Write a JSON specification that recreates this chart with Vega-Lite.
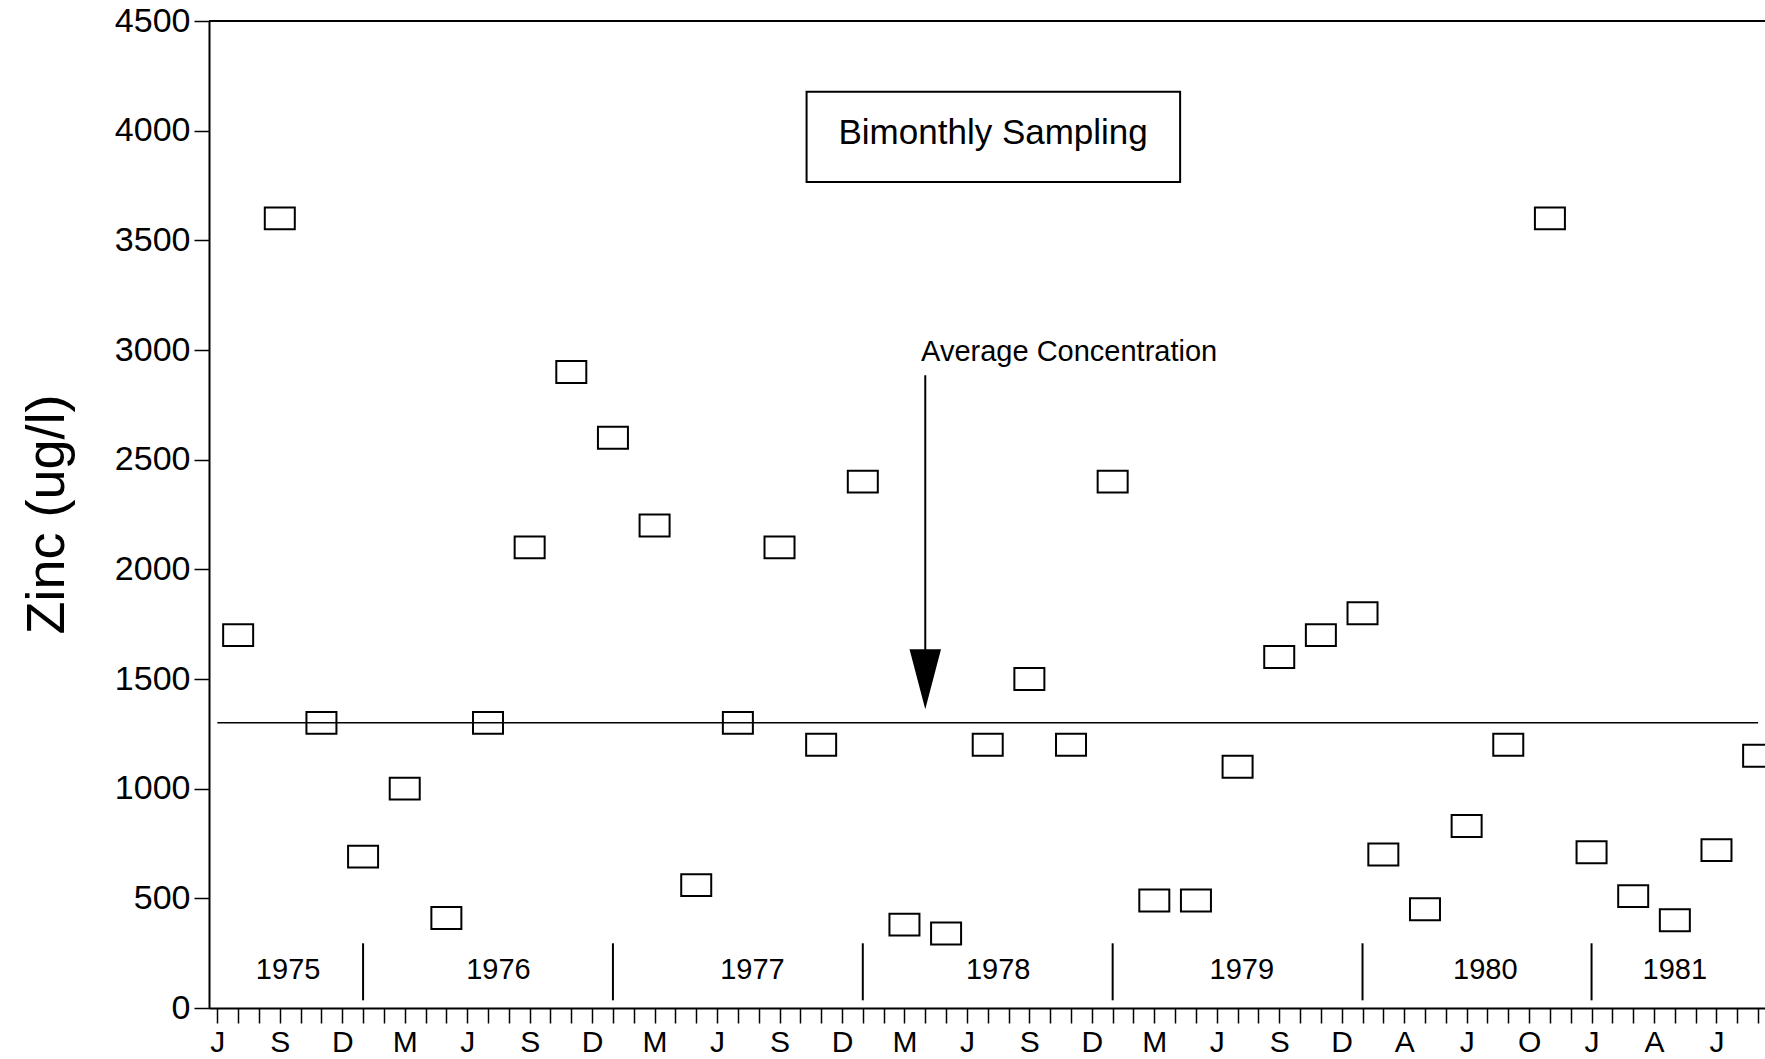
{
  "$schema": "https://vega.github.io/schema/vega-lite/v6.json",
  "width": 1556,
  "height": 987,
  "autosize": {"type": "none"},
  "padding": {"left": 209, "top": 21, "right": 0, "bottom": 51},
  "background": "white",
  "config": {
    "view": {"stroke": null},
    "font": "Liberation Sans",
    "numberFormat": "d",
    "axis": {
      "domainColor": "black",
      "domainWidth": 2,
      "tickColor": "black",
      "tickWidth": 1.5,
      "labelColor": "black",
      "titleColor": "black",
      "grid": false
    },
    "axisY": {
      "tickSize": 15,
      "labelFontSize": 34,
      "labelPadding": 4,
      "labelFlush": false,
      "labelOverlap": false,
      "titleFontSize": 54,
      "titleFontWeight": "normal",
      "titleAngle": -90,
      "titleAlign": "center",
      "titleBaseline": "middle",
      "titleX": -162,
      "titleY": 493
    }
  },
  "datasets": {
    "samples": [
      {"month": 1, "zinc": 1700}, {"month": 3, "zinc": 3600}, {"month": 5, "zinc": 1300},
      {"month": 7, "zinc": 690}, {"month": 9, "zinc": 1000}, {"month": 11, "zinc": 410},
      {"month": 13, "zinc": 1300}, {"month": 15, "zinc": 2100}, {"month": 17, "zinc": 2900},
      {"month": 19, "zinc": 2600}, {"month": 21, "zinc": 2200}, {"month": 23, "zinc": 560},
      {"month": 25, "zinc": 1300}, {"month": 27, "zinc": 2100}, {"month": 29, "zinc": 1200},
      {"month": 31, "zinc": 2400}, {"month": 33, "zinc": 380}, {"month": 35, "zinc": 340},
      {"month": 37, "zinc": 1200}, {"month": 39, "zinc": 1500}, {"month": 41, "zinc": 1200},
      {"month": 43, "zinc": 2400}, {"month": 45, "zinc": 490}, {"month": 47, "zinc": 490},
      {"month": 49, "zinc": 1100}, {"month": 51, "zinc": 1600}, {"month": 53, "zinc": 1700},
      {"month": 55, "zinc": 1800}, {"month": 56, "zinc": 700}, {"month": 58, "zinc": 450},
      {"month": 60, "zinc": 830}, {"month": 62, "zinc": 1200}, {"month": 64, "zinc": 3600},
      {"month": 66, "zinc": 710}, {"month": 68, "zinc": 510}, {"month": 70, "zinc": 400},
      {"month": 72, "zinc": 720}, {"month": 74, "zinc": 1150}
    ],
    "years": [
      {"year": "1975", "month": 3.4, "zinc": 173}, {"year": "1976", "month": 13.5, "zinc": 173},
      {"year": "1977", "month": 25.7, "zinc": 173}, {"year": "1978", "month": 37.5, "zinc": 173},
      {"year": "1979", "month": 49.2, "zinc": 173}, {"year": "1980", "month": 60.9, "zinc": 173},
      {"year": "1981", "month": 70.0, "zinc": 173}
    ],
    "yearStarts": [
      {"month": 7, "zinc": 35, "zincTop": 295}, {"month": 19, "zinc": 35, "zincTop": 295},
      {"month": 31, "zinc": 35, "zincTop": 295}, {"month": 43, "zinc": 35, "zincTop": 295},
      {"month": 55, "zinc": 35, "zincTop": 295}, {"month": 66, "zinc": 35, "zincTop": 295}
    ],
    "average": [{"zinc": 1300, "month": 0, "monthEnd": 74}],
    "frameTop": [{"zinc": 4500, "month": -0.4, "monthEnd": 74.33}]
  },
  "encoding": {
    "x": {
      "field": "month",
      "type": "quantitative",
      "scale": {"domain": [-0.4, 74.33], "nice": false, "zero": false},
      "axis": {
        "title": null,
        "values": [0,1,2,3,4,5,6,7,8,9,10,11,12,13,14,15,16,17,18,19,20,21,22,23,24,25,26,27,28,29,30,31,32,33,34,35,36,37,38,39,40,41,42,43,44,45,46,47,48,49,50,51,52,53,54,55,56,57,58,59,60,61,62,63,64,65,66,67,68,69,70,71,72,73,74],
        "tickSize": 15,
        "labelFontSize": 30,
        "labelPadding": 4,
        "labelFlush": false,
        "labelOverlap": false,
        "labelExpr": "datum.value % 3 === 0 ? ['J','S','D','M','J','S','D','M','J','S','D','M','J','S','D','M','J','S','D','A','J','O','J','A','J'][datum.value / 3] : ''"
      }
    },
    "y": {
      "field": "zinc",
      "type": "quantitative",
      "scale": {"domain": [0, 4500], "nice": false},
      "axis": {"title": "Zinc (ug/l)", "values": [0, 500, 1000, 1500, 2000, 2500, 3000, 3500, 4000, 4500]}
    }
  },
  "layer": [
    {
      "data": {"name": "samples"},
      "mark": {
        "type": "point",
        "shape": "M-1,-0.73L1,-0.73L1,0.73L-1,0.73Z",
        "size": 900,
        "filled": false,
        "stroke": "black",
        "strokeWidth": 2,
        "opacity": 1
      }
    },
    {
      "data": {"name": "frameTop"},
      "mark": {"type": "rule", "stroke": "black", "strokeWidth": 2},
      "encoding": {"x2": {"field": "monthEnd"}}
    },
    {
      "data": {"name": "average"},
      "mark": {"type": "rule", "stroke": "black", "strokeWidth": 1.5},
      "encoding": {"x2": {"field": "monthEnd"}}
    },
    {
      "data": {"name": "yearStarts"},
      "mark": {"type": "rule", "stroke": "black", "strokeWidth": 2},
      "encoding": {"y2": {"field": "zincTop"}}
    },
    {
      "data": {"name": "years"},
      "mark": {"type": "text", "fontSize": 29, "align": "center", "baseline": "middle", "color": "black"},
      "encoding": {"text": {"field": "year"}}
    },
    {
      "data": {"values": [{"month": 34, "zinc": 2885, "tip": 1620}]},
      "mark": {"type": "rule", "stroke": "black", "strokeWidth": 2},
      "encoding": {"y2": {"field": "tip"}}
    },
    {
      "data": {"values": [{"month": 34, "zinc": 1499}]},
      "mark": {
        "type": "point",
        "shape": "M-0.525,-1L0.525,-1L0,1Z",
        "size": 3600,
        "filled": true,
        "fill": "black",
        "stroke": null,
        "opacity": 1
      }
    },
    {
      "data": {"values": [{"month": 33.8, "zinc": 2990, "note": "Average Concentration"}]},
      "mark": {"type": "text", "fontSize": 29, "align": "left", "baseline": "middle", "color": "black"},
      "encoding": {"text": {"field": "note"}}
    },
    {
      "data": {"values": [{"month": 28.3, "monthEnd": 46.24, "zinc": 3766, "zincTop": 4177}]},
      "mark": {"type": "rect", "fill": null, "fillOpacity": 0, "stroke": "black", "strokeWidth": 2},
      "encoding": {
        "x2": {"field": "monthEnd"},
        "y2": {"field": "zincTop"}
      }
    },
    {
      "data": {"values": [{"month": 37.26, "zinc": 3990, "label": "Bimonthly Sampling"}]},
      "mark": {"type": "text", "fontSize": 35, "align": "center", "baseline": "middle", "color": "black"},
      "encoding": {"text": {"field": "label"}}
    }
  ]
}
